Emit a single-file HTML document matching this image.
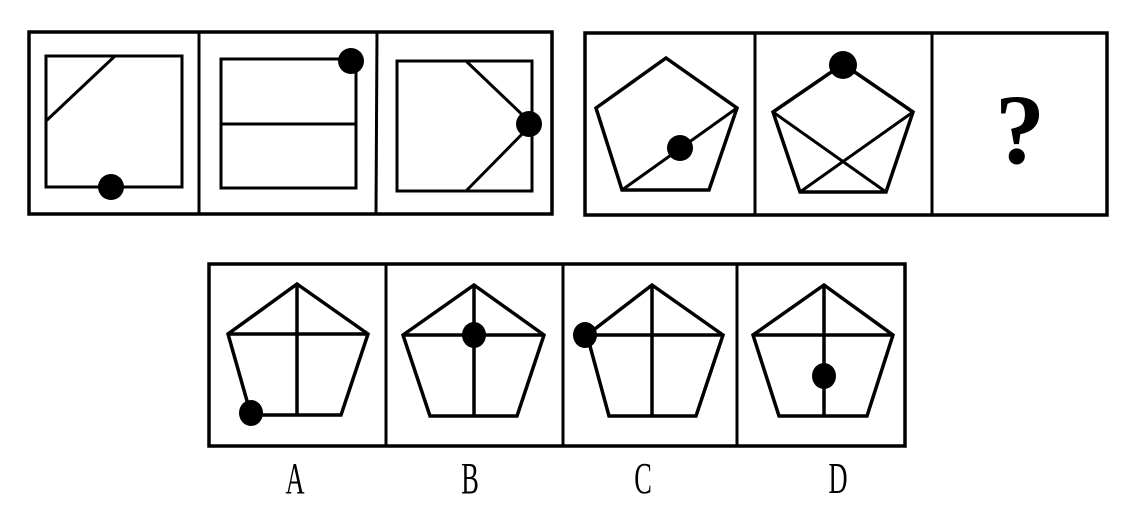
<!DOCTYPE html>
<html><head><meta charset="utf-8"><style>
html,body{margin:0;padding:0;background:#fff;}
svg{display:block;}
</style></head><body>
<svg width="1142" height="509" viewBox="0 0 1142 509" xmlns="http://www.w3.org/2000/svg">
<g fill="none" stroke="#000" stroke-width="4" stroke-linejoin="miter">
<!-- top left group -->
<rect x="29" y="32" width="523" height="182" stroke-width="3.5"/>
<line x1="199" y1="32" x2="199" y2="214" stroke-width="3"/>
<line x1="377" y1="32" x2="376" y2="214" stroke-width="3"/>
<rect x="46" y="56" width="136" height="131" stroke-width="3"/>
<line x1="115" y1="56" x2="46" y2="121" stroke-width="3"/>
<rect x="221" y="59" width="135" height="129" stroke-width="3"/>
<line x1="221" y1="124" x2="356" y2="124" stroke-width="3"/>
<rect x="397" y="61" width="135" height="130" stroke-width="3"/>
<polyline points="466,61 532,124 466,191" stroke-width="3"/>
<!-- top right group -->
<rect x="585" y="33" width="522" height="182" stroke-width="3.5"/>
<line x1="755" y1="33" x2="755" y2="215" stroke-width="3"/>
<line x1="932" y1="33" x2="932" y2="215" stroke-width="3"/>
<polygon points="666,58 737,108 709,190 622,190 596,108" stroke-width="3.5"/>
<line x1="622" y1="190" x2="737" y2="108" stroke-width="3"/>
<polygon points="843,64 913,112 886,192 800,192 773,112" stroke-width="3.5"/>
<line x1="773" y1="112" x2="886" y2="192" stroke-width="3"/>
<line x1="913" y1="112" x2="800" y2="192" stroke-width="3"/>
<!-- bottom group -->
<rect x="209" y="264" width="696" height="182" stroke-width="3.5"/>
<line x1="386" y1="264" x2="386" y2="446" stroke-width="3"/>
<line x1="563" y1="264" x2="563" y2="446" stroke-width="3"/>
<line x1="737" y1="264" x2="737" y2="446" stroke-width="3"/>
<g stroke-width="3.5">
<polygon points="297,284 368,334 341,415 251,415 228,334"/>
<line x1="228" y1="334" x2="368" y2="334"/><line x1="297" y1="284" x2="297" y2="415"/>
<polygon points="474,285 544,335 517,416 430,416 403,335"/>
<line x1="403" y1="335" x2="544" y2="335"/><line x1="474" y1="285" x2="474" y2="416"/>
<polygon points="652,285 723,335 696,416 609,416 587,335"/>
<line x1="587" y1="335" x2="723" y2="335"/><line x1="652" y1="285" x2="652" y2="416"/>
<polygon points="824,285 893,335 867,416 779,416 753,335"/>
<line x1="753" y1="335" x2="893" y2="335"/><line x1="824" y1="285" x2="824" y2="416"/>
</g>
</g>
<g fill="#000">
<circle cx="111" cy="187" r="13"/>
<circle cx="351" cy="61" r="13"/>
<circle cx="529" cy="124" r="13"/>
<circle cx="680" cy="148" r="13"/>
<circle cx="843" cy="65" r="14"/>
<ellipse cx="251" cy="413" rx="12" ry="13"/>
<ellipse cx="474" cy="335" rx="12" ry="13"/>
<ellipse cx="585" cy="335" rx="12" ry="13"/>
<ellipse cx="824" cy="376" rx="12" ry="13"/>
</g>
<text x="1020" y="163" font-family="Liberation Serif, serif" font-weight="bold" font-size="100" text-anchor="middle">?</text>
<g font-family="Liberation Serif, serif" font-size="44" text-anchor="middle">
<text transform="translate(295,493) scale(0.6,1)">A</text>
<text transform="translate(470,493) scale(0.6,1)">B</text>
<text transform="translate(643,493) scale(0.6,1)">C</text>
<text transform="translate(838,493) scale(0.6,1)">D</text>
</g>
</svg>
</body></html>
